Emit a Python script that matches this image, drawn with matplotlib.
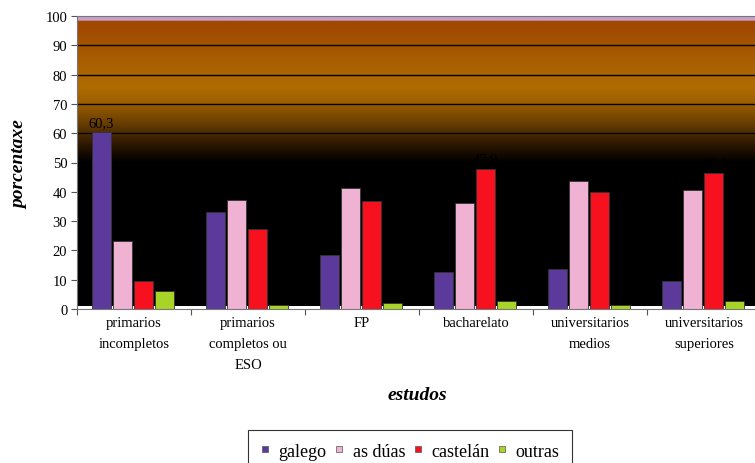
import numpy as np
import matplotlib
matplotlib.use("Agg")
import matplotlib.pyplot as plt
from matplotlib.colors import LinearSegmentedColormap
from matplotlib.lines import Line2D

categories = ["primarios\nincompletos", "primarios\ncompletos ou\nESO", "FP",
              "bacharelato", "universitarios\nmedios", "universitarios\nsuperiores"]
series_names = ["galego", "as dúas", "castelán", "outras"]
galego = [60.3, 33.1, 18.4, 12.6, 13.8, 9.7]
as_duas = [23.1, 37.2, 41.3, 36.1, 43.6, 40.7]
castelan = [9.7, 27.3, 36.8, 47.9, 39.9, 46.4]
outras = [6.1, 1.5, 2.0, 2.6, 1.5, 2.6]
labels = [(0, 0, "60,3"), (2, 3, "47,9"), (2, 5, "46,4")]  # (series, group, text)
yticks = list(range(0, 101, 10))

colors = ["#5B3A9C", "#F0B2D2", "#F7101E", "#A8D428"]
serif = "Liberation Serif"

fig = plt.figure(figsize=(7.55, 4.64), dpi=100)
ax = fig.add_axes([77/755, 1-310/464, (761-77)/755, (310-17)/464])

# background gradient
cmap = LinearSegmentedColormap.from_list("bg", [
    (0.0, "#000000"), (0.50, "#000000"), (0.56, "#2A1600"), (0.62, "#5C3600"),
    (0.70, "#9A5E00"), (0.76, "#B06C00"), (0.85, "#A85E00"), (0.97, "#A04800"),
    (0.985, "#A04800"), (0.986, "#C8A0CC"), (1.0, "#C8A0CC")])
grad = np.linspace(0, 1, 500).reshape(-1, 1)
ax.imshow(grad, cmap=cmap, origin="lower", extent=[0, 6, 0, 100], aspect="auto", zorder=0)
ax.axhspan(0.15, 1.1, color="white", zorder=0.5, lw=0)

for y in yticks[1:-1]:
    ax.axhline(y, color="black", lw=1.0, zorder=1)

data = [galego, as_duas, castelan, outras]
x = np.arange(6)
w = 0.171
step = 0.184
for i, (vals, c) in enumerate(zip(data, colors)):
    pos = x + 0.5 + (i - 1.5) * step - 0.01
    ax.bar(pos, vals, width=w, color=c, edgecolor="#333333", lw=0.6, zorder=2)
for si, gi, t in labels:
    px = gi + 0.5 + (si - 1.5) * step - 0.01
    ax.text(px, data[si][gi] + 1.2, t, ha="center", va="bottom",
            family=serif, fontsize=10.5, zorder=3)

ax.set_xlim(0, 6)
ax.set_ylim(0, 100)
ax.set_yticks(yticks)
ax.set_yticklabels([str(v) for v in yticks], family=serif, fontsize=10.5)
ax.set_xticks(np.arange(0, 7))
ax.set_xticklabels([])
ax.set_xticks(x + 0.5, minor=True)
ax.set_xticklabels(categories, minor=True, family=serif, fontsize=10.5, linespacing=1.8, va="top")
ax.tick_params(axis="x", which="minor", length=0, pad=5)
ax.tick_params(axis="x", which="major", length=4, color="#555555")
ax.tick_params(axis="y", length=4, color="#555555", pad=3)
ax.spines["right"].set_visible(False)
ax.spines["top"].set_color("#777777")
ax.spines["left"].set_color("#777777")
ax.spines["bottom"].set_color("#777777")

fig.text(20/755, 1-165/464, "porcentaxe", rotation=90, ha="center", va="center",
         family=serif, fontsize=14, fontweight="bold", style="italic")
fig.text(417/755, 1-396/464, "estudos", ha="center", va="center",
         family=serif, fontsize=14, fontweight="bold", style="italic")

handles = [Line2D([], [], marker="s", ls="", markersize=4, markerfacecolor=c,
                  markeredgecolor="#555555", markeredgewidth=0.5) for c in colors]
leg = fig.legend(handles, series_names, loc="upper center", bbox_to_anchor=(410/755, 1-431/464),
                 ncol=4, frameon=True, fancybox=False, edgecolor="black",
                 prop={"family": serif, "size": 13}, handlelength=0.5, handletextpad=0.5,
                 columnspacing=0.45, borderpad=0.7, borderaxespad=0)
leg.get_frame().set_linewidth(0.8)

fig.savefig("out.png", dpi=100)
